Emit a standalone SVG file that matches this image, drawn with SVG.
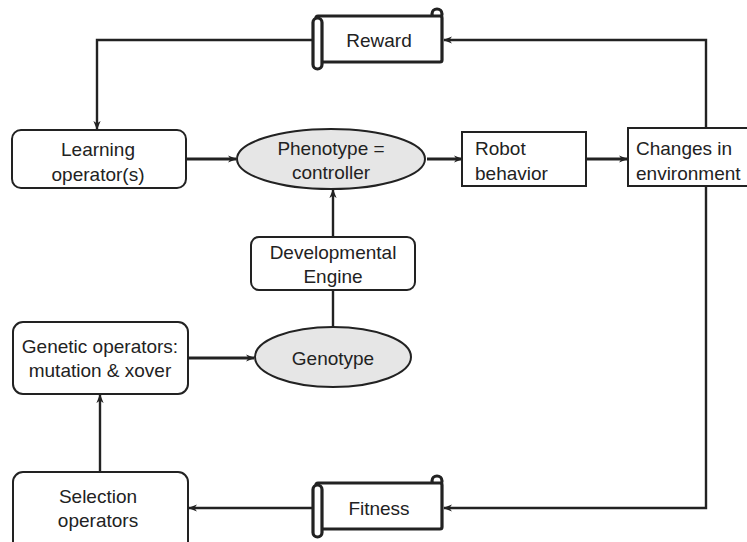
<svg xmlns="http://www.w3.org/2000/svg" width="747" height="542" viewBox="0 0 747 542">
<defs>
<style>
text{font-family:"Liberation Sans",Arial,sans-serif;font-size:19px;fill:#222}
.c{text-anchor:middle}
.box{fill:#fff;stroke:#222;stroke-width:2}
.ell{fill:#e6e6e6;stroke:#222;stroke-width:2}
.scroll{fill:#fff;stroke:#222;stroke-width:3.2}
.con{fill:none;stroke:#222;stroke-width:2.4}
.thick{stroke-width:3.2}
</style>
<marker id="ah" viewBox="0 0 10 10" refX="9" refY="5" markerWidth="9" markerHeight="9" markerUnits="userSpaceOnUse" orient="auto">
<path d="M0,1 L10,5 L0,9 L3,5 Z" fill="#222"/>
</marker>
</defs>
<g id="connectors">
<path class="con" d="M706,128 V40 H444" marker-end="url(#ah)"/>
<path class="con" d="M313,40 H97 V129" marker-end="url(#ah)"/>
<path class="con thick" d="M186,159 H236" marker-end="url(#ah)"/>
<path class="con thick" d="M427,159 H462" marker-end="url(#ah)"/>
<path class="con thick" d="M586,159 H627" marker-end="url(#ah)"/>
<path class="con" d="M333,237 V190" marker-end="url(#ah)"/>
<path class="con" d="M333,290 V327"/>
<path class="con thick" d="M188,358 H254" marker-end="url(#ah)"/>
<path class="con" d="M100,472 V395" marker-end="url(#ah)"/>
<path class="con" d="M706,186 V508 H444" marker-end="url(#ah)"/>
<path class="con" d="M313,508 H189" marker-end="url(#ah)"/>
</g>
<g id="reward">
<circle class="scroll" cx="437" cy="14" r="5"/>
<rect class="scroll" x="316" y="16" width="126" height="46" rx="2"/>
<rect class="scroll" x="313" y="18" width="9" height="51" rx="4.5"/>
<text class="c" x="379" y="47">Reward</text>
</g>
<g id="fitness">
<circle class="scroll" cx="437" cy="481" r="5"/>
<rect class="scroll" x="316" y="483" width="126" height="46" rx="2"/>
<rect class="scroll" x="313" y="485" width="9" height="52" rx="4.5"/>
<text class="c" x="379" y="515">Fitness</text>
</g>
<g id="learning">
<rect class="box" x="12" y="130" width="174" height="58" rx="9"/>
<text class="c" x="98" y="156">Learning</text>
<text class="c" x="98" y="181">operator(s)</text>
</g>
<g id="phenotype">
<ellipse class="ell" cx="331" cy="159" rx="94" ry="30"/>
<text class="c" x="331" y="155">Phenotype =</text>
<text class="c" x="331" y="179">controller</text>
</g>
<g id="robot">
<rect class="box" x="462" y="132" width="124" height="54"/>
<text x="475" y="155">Robot</text>
<text x="475" y="180">behavior</text>
</g>
<g id="changes">
<rect class="box" x="628" y="128" width="130" height="58"/>
<text x="636" y="155">Changes in</text>
<text x="636" y="180">environment</text>
</g>
<g id="developmental">
<rect class="box" x="251" y="237" width="164" height="53" rx="8"/>
<text class="c" x="333" y="259">Developmental</text>
<text class="c" x="333" y="283">Engine</text>
</g>
<g id="genotype">
<ellipse class="ell" cx="333" cy="357" rx="78" ry="30"/>
<text class="c" x="333" y="365">Genotype</text>
</g>
<g id="genetic">
<rect class="box" x="13" y="322" width="175" height="72" rx="10"/>
<text class="c" x="100" y="353">Genetic operators:</text>
<text class="c" x="100" y="377">mutation &amp; xover</text>
</g>
<g id="selection">
<rect class="box" x="13" y="472" width="175" height="80" rx="10"/>
<text class="c" x="98" y="503">Selection</text>
<text class="c" x="98" y="527">operators</text>
</g>
</svg>
